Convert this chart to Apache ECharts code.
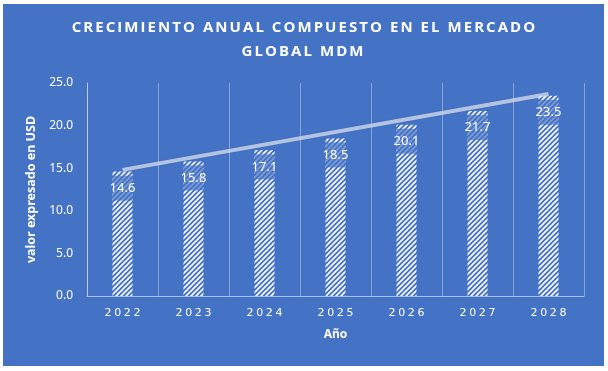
<!DOCTYPE html>
<html><head><meta charset="utf-8">
<script src="https://cdn.jsdelivr.net/npm/echarts@6/dist/echarts.min.js"></script>
<style>
html,body{margin:0;padding:0;background:#fff;width:608px;height:371px;overflow:hidden}
#c{position:absolute;left:3px;top:4px;width:601px;height:362px}
#t{position:absolute;left:3px;top:15px;width:601px;text-align:center;color:#fff;
   font-family:'Open Sans';font-weight:bold;font-size:15px;line-height:23.5px;letter-spacing:2.05px;text-indent:2px;z-index:2}
</style></head>
<body><div id="c"></div>
<div id="t">CRECIMIENTO ANUAL COMPUESTO EN EL MERCADO<br>GLOBAL MDM</div>
<script>
const categories = ['2022','2023','2024','2025','2026','2027','2028'];
const values = [14.6, 15.8, 17.1, 18.5, 20.1, 21.7, 23.5];
const trendPoints = [14.8, null, null, null, null, null, 23.7];
const yTicks = [0, 5, 25];

function hatch(){
  const c = document.createElement('canvas');
  c.width = 5; c.height = 5;
  const g = c.getContext('2d');
  g.fillStyle = '#4472C4'; g.fillRect(0,0,5,5);
  g.strokeStyle = '#ffffff'; g.lineWidth = 1.6;
  g.beginPath();
  g.moveTo(-1,6); g.lineTo(6,-1);
  g.moveTo(-1,1); g.lineTo(1,-1);
  g.moveTo(4,6); g.lineTo(6,4);
  g.stroke();
  return c;
}

function spaced(s){
  return s.split('').map(ch => '{a|' + ch + '}').join('');
}

const chart = echarts.init(document.getElementById('c'));
chart.setOption({
  backgroundColor: '#4472C4',
  animation: false,
  grid: {left: 84, right: 20, top: 79, bottom: 70},
  xAxis: {
    type: 'category', data: categories,
    name: 'Año', nameLocation: 'middle', nameGap: 33,
    nameTextStyle: {color:'#fff', fontWeight:'bold', fontSize:12, fontFamily:'Noto Sans'},
    axisLine: {lineStyle:{color:'rgba(255,255,255,0.55)'}},
    axisTick: {show:false, interval:0},
    axisLabel: {
      interval: 0,
      color:'#fff', fontSize:11, fontFamily:'DejaVu Sans', margin:12,
      formatter: v => spaced(v),
      rich: {a: {color:'#fff', fontSize:11, fontFamily:'DejaVu Sans', padding:[0,1.3,0,1.3]}}
    },
    splitLine: {show:true, interval:0, lineStyle:{color:'rgba(255,255,255,0.35)'}}
  },
  yAxis: {
    type: 'value', min: yTicks[0], max: yTicks[2], interval: yTicks[1],
    name: 'valor expresado en USD', nameLocation: 'middle', nameGap: 48,
    nameTextStyle: {color:'#fff', fontWeight:'bold', fontSize:12.5, fontFamily:'Noto Sans'},
    axisLine: {show:true, lineStyle:{color:'rgba(255,255,255,0.45)'}},
    axisTick: {show:false},
    axisLabel: {color:'#fff', fontSize:12, fontFamily:'Noto Sans', margin:14, formatter: v => v.toFixed(1)},
    splitLine: {show:false}
  },
  series: [{
    type: 'bar', data: values, barWidth: 20,
    itemStyle: {color: {image: hatch(), repeat: 'repeat'}},
    label: {
      show: true, position: 'insideTop', distance: 4,
      color: '#fff', fontSize: 13, fontFamily: 'Noto Sans',
      backgroundColor: 'rgba(68,114,196,0.7)', width: 20, height: 25, lineHeight: 25,
      align: 'center', overflow: 'none',
      formatter: p => p.value.toFixed(1)
    }
  },{
    type: 'line', data: trendPoints, connectNulls: true, symbol: 'none', z: 5,
    lineStyle: {color: 'rgba(230,235,245,0.7)', width: 4, shadowColor:'rgba(0,0,0,0.12)', shadowBlur:2}
  }]
});
</script></body></html>
